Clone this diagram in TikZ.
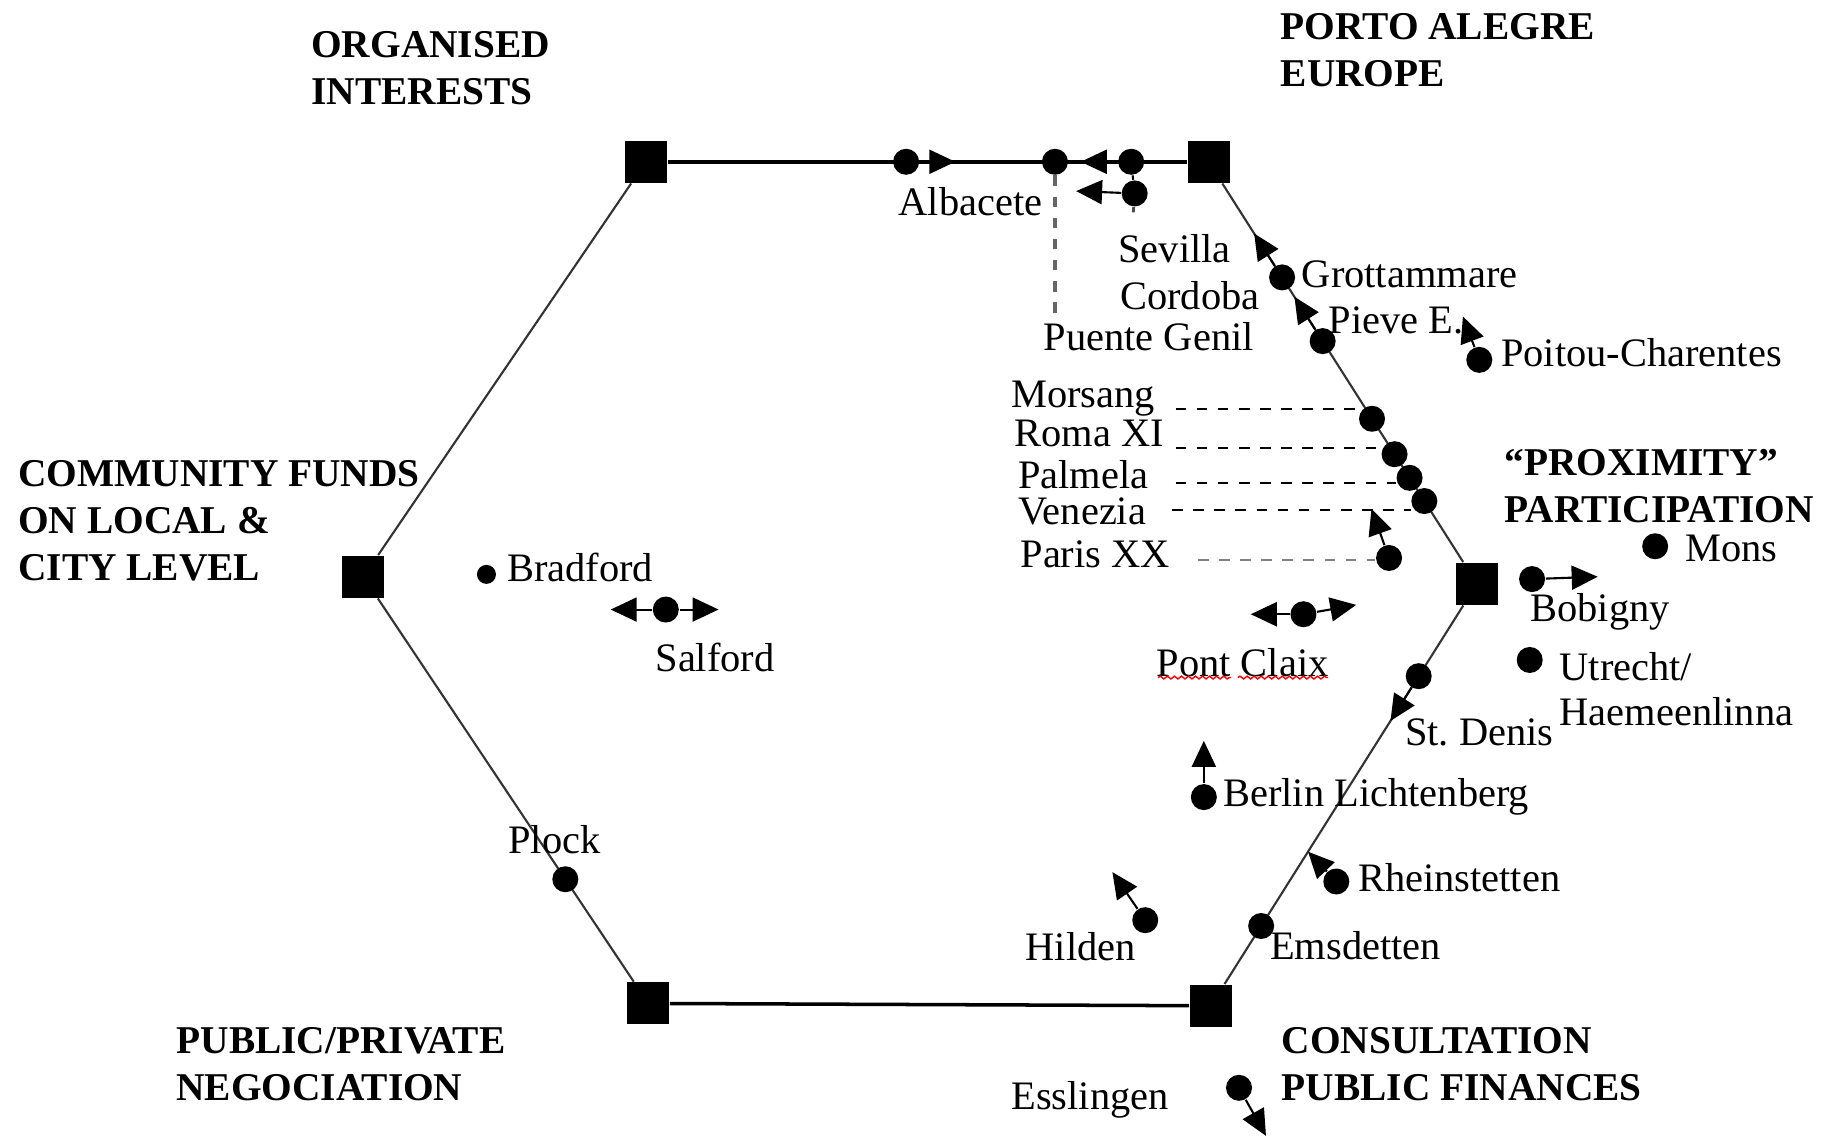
\documentclass[tikz,border=0pt]{standalone}
\usepackage{fontspec}
\setmainfont{Liberation Serif}
\usepackage{tikz}
\usetikzlibrary{calc}
\usetikzlibrary{arrows.meta}
\usetikzlibrary{decorations.pathmorphing}

\tikzset{
  hub/.style={fill=black,inner sep=0pt,minimum size=0.42cm},
  spot/.style={circle,fill=black,inner sep=0pt,minimum size=0.26cm},
  pole/.style={font=\fontsize{11.2}{13.4}\selectfont\bfseries,align=left,anchor=west,inner sep=0pt},
  city/.style={font=\fontsize{11.5}{12.6}\selectfont,inner sep=0pt},
  drift/.style={line width=0.6pt,-{Triangle[length=0.26cm,width=0.24cm]}},
  side/.style={line width=0.6pt,black!80},
  link/.style={dashed,line width=0.6pt}
}

\begin{document}
\begin{tikzpicture}[x=0.011722cm,y=-0.011722cm]
\useasboundingbox (0,0) rectangle (1568,969);

\node[hub] (oi) at (551,138) {};
\node[hub] (pa) at (1031,138) {};
\node[hub] (cf) at (310,492) {};
\node[hub] (pp) at (1260,498) {};
\node[hub] (pn) at (553,856) {};
\node[hub] (cp) at (1033,858) {};

\draw[line width=1pt] (oi) -- (pa);
\draw[line width=1pt] (pn) -- (cp);
\draw[side] (pa) -- (pp) -- (cp);
\draw[side] (oi) -- (cf) -- (pn);

\node[pole] (oiL) at (265,58) {ORGANISED\\INTERESTS};
\node[pole] (paL) at (1092,43) {PORTO ALEGRE\\EUROPE};
\node[pole] (cfL) at (15,444) {COMMUNITY FUNDS\\ON LOCAL \&\\CITY LEVEL};
\node[pole] (ppL) at (1283,415) {“PROXIMITY”\\PARTICIPATION};
\node[pole] (pnL) at (150,908) {PUBLIC/PRIVATE\\NEGOCIATION};
\node[pole] (cpL) at (1093,908) {CONSULTATION\\PUBLIC FINANCES};

\node[spot] (alb) at (773,138) {};
\coordinate (albT) at (815,138);
\draw[drift] (alb) -- (albT);
\node[city] (albL) at (828,172) {Albacete};

\node[spot] (pge) at (900,138) {};
\node[spot] (sev) at (965,138) {};
\node[spot] (cor) at (968,165) {};
\coordinate (sevT) at (922,138);
\coordinate (corT) at (918,163);
\coordinate (corB) at (966,192);
\coordinate (pgeB) at (900,270);
\draw[drift] (sev) -- (sevT);
\draw[drift] (cor) -- (corT);
\draw[line width=0.6pt] (sev) -- (cor);
\draw[dash pattern=on 1.5pt off 4pt,line width=0.8pt,black!70] (cor) -- (corB);
\draw[dash pattern=on 3pt off 3pt,line width=1pt,black!60] (pge) -- (pgeB);
\node[city] (sevL) at (1002,212) {Sevilla};
\node[city] (corL) at (1015,252) {Cordoba};
\node[city] (pgeL) at (980,287) {Puente Genil};

\node[spot] (gro) at ($(pa)!0.274!(pp)$) {};
\coordinate (groT) at ($(pa)!0.17!(pp)$);
\draw[drift] (gro) -- (groT);
\node[city,anchor=west] (groL) at (1110,234) {Grottammare};
\node[spot] (pie) at ($(pa)!0.425!(pp)$) {};
\coordinate (pieT) at ($(pa)!0.32!(pp)$);
\draw[drift] (pie) -- (pieT);
\node[city,anchor=west] (pieL) at (1133,273) {Pieve E.};
\node[spot] (poi) at (1262,307) {};
\coordinate (poiT) at (1248,270);
\draw[drift] (poi) -- (poiT);
\node[city,anchor=west] (poiL) at (1280,301) {Poitou-Charentes};

\node[spot] (mor) at ($(pa)!0.609!(pp)$) {};
\node[spot] (rom) at ($(pa)!0.693!(pp)$) {};
\node[spot] (pal) at ($(pa)!0.749!(pp)$) {};
\node[spot] (ven) at ($(pa)!0.804!(pp)$) {};
\node[spot] (par) at (1185,476) {};
\coordinate (parT) at (1170,434);
\draw[drift] (par) -- (parT);
\node[city,anchor=west] (morL) at (862,340) {Morsang};
\node[city,anchor=west] (romL) at (865,370) {Roma XI};
\node[city,anchor=west] (palL) at (868,405) {Palmela};
\node[city,anchor=west] (venL) at (868,436) {Venezia};
\node[city,anchor=west] (parL) at (870,473) {Paris XX};
\coordinate (morD) at (1003,349);
\coordinate (romD) at (1003,382);
\coordinate (palD) at (1003,412);
\coordinate (venD) at (1000,435);
\coordinate (parD) at (1022,478);
\draw[link] (morD) -- (morD -| mor.west);
\draw[link] (romD) -- (romD -| rom.west);
\draw[link] (palD) -- (palD -| pal.west);
\draw[link] (venD) -- (venD -| ven.west);
\draw[link,black!50] (parD) -- (parD -| par.west);

\node[spot] (bob) at (1307,494) {};
\coordinate (bobT) at (1363,492);
\draw[drift] (bob) -- (bobT);
\node[city] (bobL) at (1365,522) {Bobigny};
\node[spot] (mon) at (1412,466) {};
\node[city,anchor=west] (monL) at (1437,468) {Mons};
\node[spot] (utr) at (1305,563) {};
\node[city,anchor=west,align=left] (utrL) at (1330,588) {Utrecht/\\Haemeenlinna};

\node[spot] (std) at ($(pp)!0.219!(cp)$) {};
\coordinate (stdT) at ($(pp)!0.325!(cp)$);
\draw[drift] (std) -- (stdT);
\node[city] (stdL) at (1262,625) {St.\ Denis};

\node[spot] (pcl) at (1112,524) {};
\coordinate (pclA) at (1067,524);
\coordinate (pclB) at (1157,516);
\draw[drift] (pcl) -- (pclA);
\draw[drift] (pcl) -- (pclB);
\node[city] (pclL) at (1060,565) {Pont Claix};
\draw[red,decorate,decoration={snake,amplitude=0.4pt,segment length=2pt}] (988,578) -- (1050,578);
\draw[red,decorate,decoration={snake,amplitude=0.4pt,segment length=2pt}] (1056,578) -- (1133,578);

\node[spot] (ber) at (1027,680) {};
\coordinate (berT) at (1027,632);
\draw[drift] (ber) -- (berT);
\node[city,anchor=west] (berL) at (1043,680) {Berlin Lichtenberg};

\node[spot] (rhe) at (1140,752) {};
\coordinate (rheT) at ($(pp)!0.635!(cp)$);
\draw[drift] (rhe) -- (rheT);
\node[city,anchor=west] (rheL) at (1158,749) {Rheinstetten};

\node[spot] (ems) at ($(pp)!0.811!(cp)$) {};
\node[city,anchor=west] (emsL) at (1083,807) {Emsdetten};

\node[spot] (hil) at (977,785) {};
\coordinate (hilT) at (949,744);
\draw[drift] (hil) -- (hilT);
\node[city] (hilL) at (922,808) {Hilden};

\node[spot] (ess) at (1057,928) {};
\coordinate (essT) at (1080,969);
\draw[drift] (ess) -- (essT);
\node[city] (essL) at (930,938) {Esslingen};

\node[spot,minimum size=0.19cm] (bra) at (415,490) {};
\node[city,anchor=west] (braL) at (432,484) {Bradford};

\node[spot] (sal) at (568,520) {};
\coordinate (salA) at (521,520);
\coordinate (salB) at (613,520);
\draw[drift] (sal) -- (salA);
\draw[drift] (sal) -- (salB);
\node[city] (salL) at (610,561) {Salford};

\node[spot] (plo) at ($(cf)!0.709!(pn)$) {};
\node[city] (ploL) at (473,716) {Plock};
\end{tikzpicture}
\end{document}
